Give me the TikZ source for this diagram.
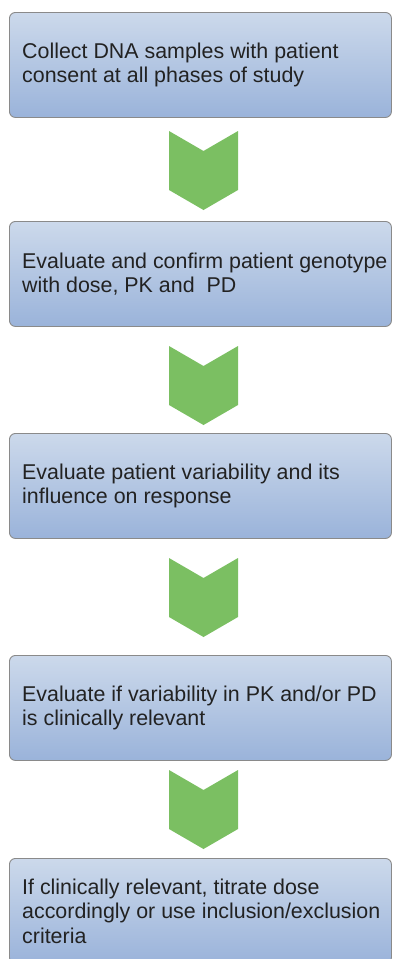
\documentclass[tikz,border=0pt]{standalone}
\usepackage{fontspec}
\setmainfont{Liberation Sans}
\definecolor{boxtop}{HTML}{CCD9EB}
\definecolor{boxbot}{HTML}{9AB3DA}
\definecolor{boxline}{HTML}{8A8A8A}
\definecolor{arrowgreen}{HTML}{7BBF62}
\definecolor{textgray}{HTML}{222222}
\tikzset{
  stepbox/.style={rectangle, rounded corners=6pt, draw=boxline, line width=0.9pt,
    top color=boxtop, bottom color=boxbot, minimum width=382pt, minimum height=105pt,
    anchor=north west, inner sep=0pt},
  steptext/.style={anchor=west, align=left, font=\fontsize{21.4}{24.5}\selectfont,
    text=textgray, inner sep=0pt},
  chevron/.style={fill=arrowgreen, draw=none}
}
\newcommand\mychevron[1]{\fill[chevron] (169,#1) -- (203.5,#1+20) -- (238,#1) -- (238,#1+59) -- (203.5,#1+79) -- (169,#1+59) -- cycle;}
\begin{document}
\begin{tikzpicture}[x=1pt,y=-1pt]
\useasboundingbox (0,0) rectangle (392,959);
\clip (0,0) rectangle (392,959);
\node[stepbox] (b1) at (9,12) {};
\node[steptext] (t1) at ([xshift=13pt]b1.west) {Collect DNA samples with patient\\consent at all phases of study};
\node[stepbox] (b2) at (9,221) {};
\node[steptext] (t2) at ([xshift=13pt]b2.west) {Evaluate and confirm patient genotype\\with dose, PK and\ \ PD};
\node[stepbox] (b3) at (9,433) {};
\node[steptext] (t3) at ([xshift=13pt]b3.west) {Evaluate patient variability and its\\influence on response};
\node[stepbox] (b4) at (9,655) {};
\node[steptext] (t4) at ([xshift=13pt]b4.west) {Evaluate if variability in PK and/or PD\\is clinically relevant};
\node[stepbox] (b5) at (9,858) {};
\node[steptext] (t5) at ([xshift=13pt]b5.west) {If clinically relevant, titrate dose\\accordingly or use inclusion/exclusion\\criteria};
\mychevron{131}
\mychevron{346}
\mychevron{558}
\mychevron{770}
\end{tikzpicture}
\end{document}
